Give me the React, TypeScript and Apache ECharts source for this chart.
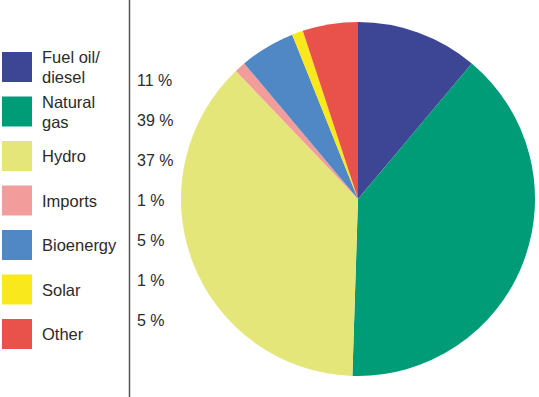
import React, { useEffect, useRef } from "react";
import * as echarts from "echarts";

const categories = ["Fuel oil/ diesel", "Natural gas", "Hydro", "Imports", "Bioenergy", "Solar", "Other"];
const legendLabels = ["Fuel oil/\ndiesel", "Natural\ngas", "Hydro", "Imports", "Bioenergy", "Solar", "Other"];
const shares = [11, 39, 37, 1, 5, 1, 5];
const colors = ["#3d4595", "#009b77", "#e5e67a", "#f29c9c", "#5087c5", "#f8e81c", "#e8524a"];

const FONT = "'Liberation Sans', Arial, sans-serif";

export default function App() {
  const ref = useRef<HTMLDivElement>(null);
  useEffect(() => {
    if (!ref.current) return;
    const chart = echarts.init(ref.current, null, { renderer: "svg" });
    const labelFor: Record<string, string> = {};
    categories.forEach((c, i) => (labelFor[c] = legendLabels[i]));
    chart.setOption({
      animation: false,
      legend: categories.map((c, i) => {
        const lines = legendLabels[i].split("\n").length;
        const h = Math.max(30, lines * 20);
        return {
          data: [c],
          orient: "vertical",
          left: 2,
          top: 67 + i * 44.5 - h / 2,
          padding: 0,
          itemWidth: 30,
          itemHeight: 30,
          itemGap: 0,
          selectedMode: false,
          icon: "rect",
          formatter: (n: string) => labelFor[n],
          textStyle: { fontFamily: FONT, fontSize: 16.5, color: "#2b2b2b", lineHeight: 20, padding: [0, 0, 0, 5] },
        };
      }),
      graphic: [
        {
          type: "line",
          shape: { x1: 129.5, y1: 0, x2: 129.5, y2: 397 },
          style: { stroke: "#555", lineWidth: 1.5 },
          silent: true,
        },
        ...shares.map((v, i) => ({
          type: "text",
          left: 137,
          top: 72 + i * 40,
          style: { text: `${v} %`, fontFamily: FONT, fontSize: 16, fill: "#2b2b2b" },
          silent: true,
        })),
      ],
      series: [
        {
          type: "pie",
          center: [358, 199],
          radius: 177,
          startAngle: 90,
          clockwise: true,
          label: { show: false },
          labelLine: { show: false },
          emphasis: { disabled: true },
          itemStyle: { borderWidth: 0 },
          data: categories.map((c, i) => ({ name: c, value: shares[i], itemStyle: { color: colors[i] } })),
        },
      ],
    });
    return () => chart.dispose();
  }, []);
  return (
    <div
      ref={ref}
      style={{ position: "fixed", left: 0, top: 0, width: 539, height: 397, background: "#fff" }}
    />
  );
}
